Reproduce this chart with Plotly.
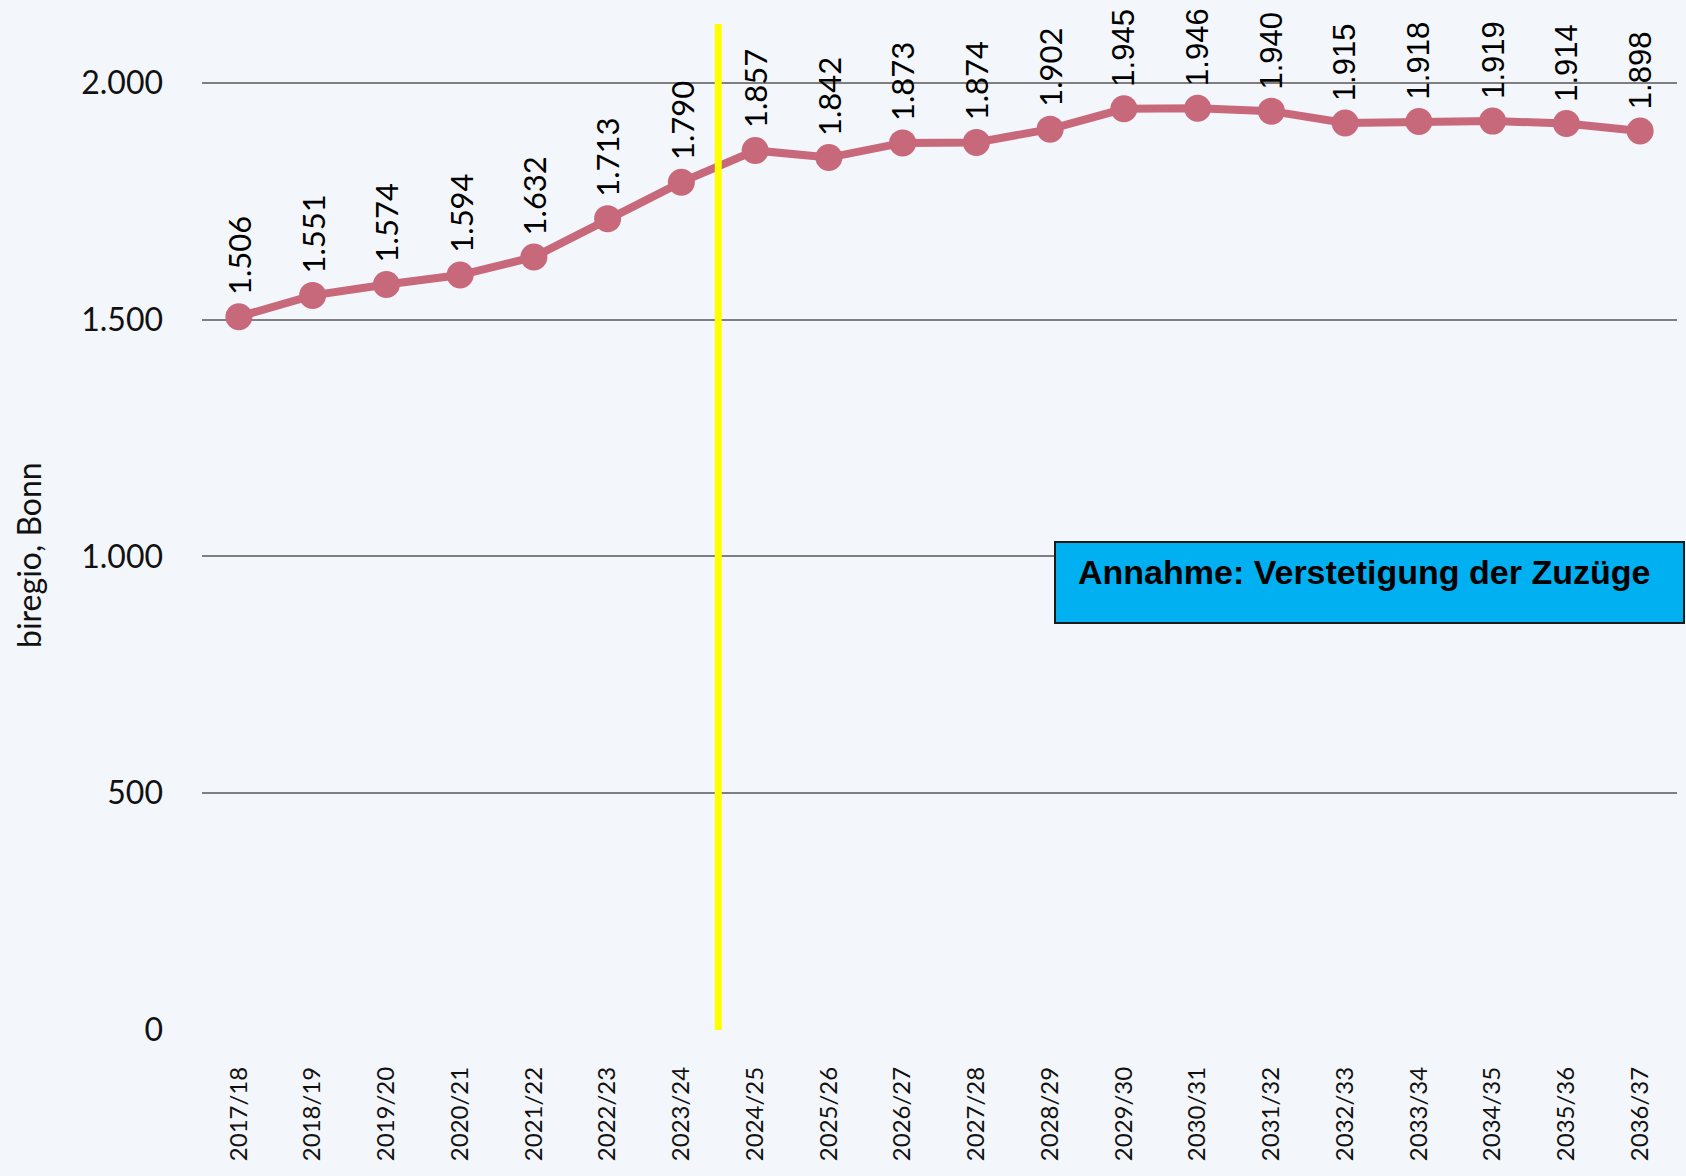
import plotly.graph_objects as go

categories = ["2017/18", "2018/19", "2019/20", "2020/21", "2021/22", "2022/23", "2023/24",
              "2024/25", "2025/26", "2026/27", "2027/28", "2028/29", "2029/30", "2030/31",
              "2031/32", "2032/33", "2033/34", "2034/35", "2035/36", "2036/37"]
values = [1506, 1551, 1574, 1594, 1632, 1713, 1790, 1857, 1842, 1873,
          1874, 1902, 1945, 1946, 1940, 1915, 1918, 1919, 1914, 1898]
y_ticks = [0, 500, 1000, 1500, 2000]
y_title = "biregio, Bonn"
box_text = "Annahme: Verstetigung der Zuzüge"

BG = "#f3f6fa"
LINE = "#c8687b"
W, H = 1686, 1176
L, R, T, B = 202, 9, 24, 146
YMAX = 2124


def de(v):
    return f"{v:,}".replace(",", ".")


fig = go.Figure()
fig.add_trace(go.Scatter(
    x=categories, y=values, mode="lines+markers",
    line=dict(color=LINE, width=8),
    marker=dict(color=LINE, size=27),
    hoverinfo="skip", showlegend=False,
))

annotations = []
for i, (c, v) in enumerate(zip(categories, values)):
    right = i >= 12
    annotations.append(dict(
        x=c, y=v, xref="x", yref="y", text=de(v), showarrow=False,
        textangle=-90, xanchor="center", yanchor="bottom",
        yshift=20,
        font=dict(family="Liberation Sans" if right else "Lato", size=31, color="#000000"),
    ))

pw = W - L - R
ph = H - T - B
def px_x(p):
    return (p - L) / pw
def px_y(p):
    return (H - B - p) / ph

annotations.append(dict(
    x=px_x(28), y=px_y(555), xref="paper", yref="paper",
    text=y_title, showarrow=False, textangle=-90, xanchor="center", yanchor="middle",
    font=dict(family="Lato", size=32, color="#111111"),
))
annotations.append(dict(
    x=px_x(1076), y=px_y(572), xref="paper", yref="paper", text="<b>" + box_text + "</b>",
    showarrow=False, xanchor="left", yanchor="middle",
    font=dict(family="Liberation Sans", size=34, color="#000000"),
))

shapes = [
    dict(type="line", xref="x", yref="paper", x0=6.5, x1=6.5, y0=0, y1=1,
         line=dict(color="#ffff00", width=7), layer="above"),
    dict(type="rect", xref="paper", yref="paper",
         x0=px_x(1055), x1=px_x(1684), y0=px_y(623), y1=px_y(542),
         fillcolor="#00b0f0", line=dict(color="#1a1a1a", width=2), layer="above"),
]

fig.update_layout(
    width=W, height=H,
    margin=dict(l=L, r=R, t=T, b=B, pad=0, autoexpand=False),
    paper_bgcolor=BG, plot_bgcolor=BG,
    separators=",.",
    annotations=annotations, shapes=shapes,
    xaxis=dict(
        type="category", range=[-0.5, len(categories) - 0.5], automargin=False,
        showgrid=False, zeroline=False, showline=False,
        tickangle=-90, ticks="", ticklabelstandoff=31,
        tickfont=dict(family="Lato", size=24, color="#111111"),
    ),
    yaxis=dict(
        range=[0, YMAX], tickvals=y_ticks, ticktext=[de(t) for t in y_ticks],
        automargin=False,
        showgrid=True, gridcolor="#7f7f7f", gridwidth=2,
        zeroline=False, showline=False, ticks="", ticklabelstandoff=38,
        tickfont=dict(family="Lato", size=32, color="#111111"),
    ),
)

fig.write_html("out.html", config={"displayModeBar": False},
               post_script="document.body.style.margin='0';document.body.style.background='#f3f6fa';")
